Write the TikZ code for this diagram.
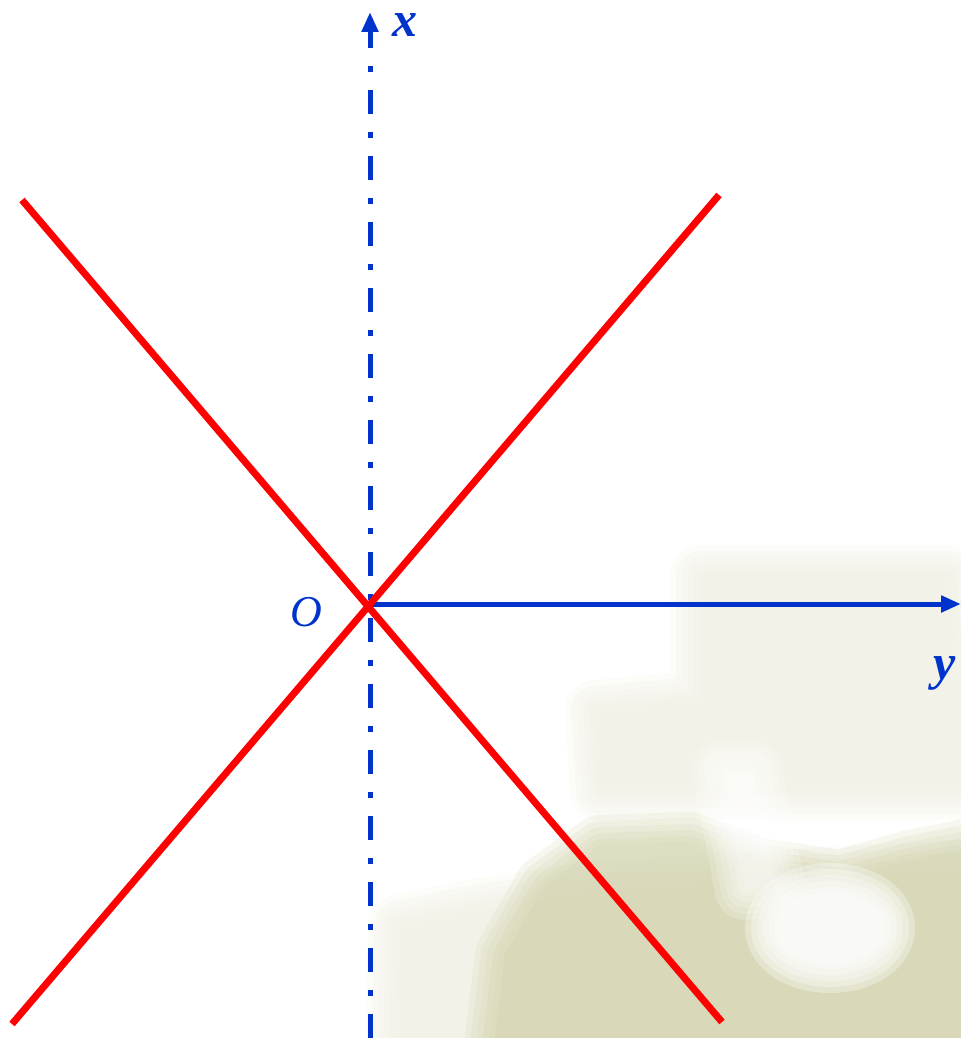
\documentclass[tikz,border=0pt]{standalone}
\usepackage{fontspec}
\setmainfont{Liberation Serif}
\usetikzlibrary{arrows.meta}
\definecolor{axisblue}{RGB}{0,51,204}
\definecolor{linered}{RGB}{255,0,0}
\definecolor{paleback}{RGB}{238,236,222}
\definecolor{oliveback}{RGB}{208,208,168}
% a blurred patch: the same shape filled several times, wider and fainter
\newcommand\softblob[2]{%
  \foreach \w in {30,24,18,12,6,0}{
    \begin{scope}[transparency group,opacity=.18]
      \fill[#1,draw=#1,line width=\w pt,line join=round] #2;
    \end{scope}
  }}

\begin{document}
\begin{tikzpicture}[x=0.5pt,y=-0.5pt]
  \useasboundingbox (0,0) rectangle (961,1038);
  \tikzset{axis/.style={draw=axisblue,line width=2.5pt},
           ray/.style={draw=linered,line width=3.5pt,line cap=butt},
           tip/.style={-{Triangle[length=10pt,width=8pt]}},
           lbl/.style={text=axisblue,inner sep=0pt,font=\fontsize{25}{30}\selectfont\bfseries\itshape}}
  % faded picture behind the axes
  \softblob{paleback}{(700,575) -- (950,575) -- (961,700) -- (961,790) -- (600,790) -- (595,710) -- (700,700) -- cycle}
  \softblob{paleback}{(395,1038) -- (398,925) -- (470,910) -- (600,890) -- (961,870) -- (961,1038) -- cycle}
  \softblob{oliveback}{(495,1038) -- (505,955) -- (545,885) -- (600,845) -- (690,842) -- (760,868)
      -- (840,880) -- (910,860) -- (961,850) -- (961,1038) -- cycle}
  \softblob{white}{(722,770) -- (752,770) -- (775,885) -- (745,890) -- cycle}
  \softblob{white}{(830,928) ellipse (55 and 35)}
  \softblob{white}{(830,928) ellipse (55 and 35)}
  % axes
  \coordinate (O) at (370,604);
  \coordinate (xbot) at (370,1038);
  \coordinate (xtip) at (370,12);
  \coordinate (ytip) at (961,604);
  \draw[axis,tip,dash pattern=on 12pt off 9pt on 3pt off 9pt] (xbot) -- (xtip);
  \draw[axis,tip] (O) -- (ytip);
  % the two lines through O
  \coordinate (a1) at (22,200);
  \coordinate (a2) at (722,1022);
  \coordinate (b1) at (12,1024);
  \coordinate (b2) at (719,195);
  \draw[ray] (a1) -- (a2);
  \draw[ray] (b1) -- (b2);
  % labels
  \node[lbl] (xlbl) at (405,25) {x};
  \node[lbl] (ylbl) at (945,673) {y};
  \node[lbl,font=\fontsize{22}{26}\selectfont\itshape] (olbl) at (306,612) {O};
\end{tikzpicture}
\end{document}
